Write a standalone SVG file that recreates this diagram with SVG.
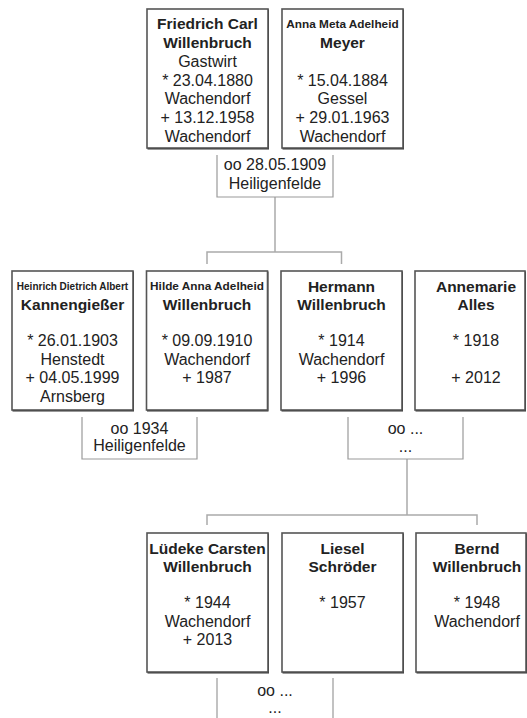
<svg xmlns="http://www.w3.org/2000/svg" width="527" height="718" viewBox="0 0 527 718">
<style>
.bx{fill:#fff;stroke:#555;stroke-width:1.6}
.sh{fill:#333}
text{font-family:"Liberation Sans",Arial,sans-serif;font-size:16px;fill:#222;text-anchor:middle}
.b{font-weight:bold;font-size:15.5px}
.s{font-weight:bold;font-size:11.8px}
.xs{font-weight:bold;font-size:10px}
.conn{stroke:#aaa;stroke-width:1.5;fill:none}
.mar{stroke:#9a9a9a;stroke-width:1.2;fill:none}
</style>
<rect width="527" height="718" fill="#fff"/>
<g id="connectors">
<path class="conn" d="M275,197 V252 M207,264 V252 H341.5 V264"/>
<path class="conn" d="M407,459 V515 M207,525 V515 H477 V525"/>
</g>
<g id="friedrich">
<rect class="sh" x="147.5" y="9.5" width="121.5" height="140"/>
<rect class="bx" x="147" y="9" width="121" height="139"/>
<text x="207.5" y="29" class="b">Friedrich Carl</text>
<text x="207.5" y="48" class="b">Willenbruch</text>
<text x="207.5" y="67">Gastwirt</text>
<text x="207.5" y="85.5">* 23.04.1880</text>
<text x="207.5" y="104">Wachendorf</text>
<text x="207.5" y="123">+ 13.12.1958</text>
<text x="207.5" y="142">Wachendorf</text>
</g>
<g id="anna">
<rect class="sh" x="282.5" y="9.5" width="121.5" height="140"/>
<rect class="bx" x="282" y="9" width="121" height="139"/>
<text x="342.5" y="27.5" class="s">Anna Meta Adelheid</text>
<text x="342.5" y="48" class="b">Meyer</text>
<text x="342.5" y="85.5">* 15.04.1884</text>
<text x="342.5" y="104">Gessel</text>
<text x="342.5" y="123">+ 29.01.1963</text>
<text x="342.5" y="142">Wachendorf</text>
</g>
<g id="marriage1">
<path class="mar" d="M217,155 V197 H333 V155"/>
<text x="275" y="170">oo 28.05.1909</text>
<text x="275" y="189">Heiligenfelde</text>
</g>
<g id="heinrich">
<rect class="sh" x="12.5" y="271.5" width="121.5" height="140"/>
<rect class="bx" x="12" y="271" width="121" height="139"/>
<text x="72.5" y="289.5" class="xs">Heinrich Dietrich Albert</text>
<text x="72.5" y="310" class="b">Kannengießer</text>
<text x="72.5" y="346">* 26.01.1903</text>
<text x="72.5" y="364.5">Henstedt</text>
<text x="72.5" y="383">+ 04.05.1999</text>
<text x="72.5" y="401.5">Arnsberg</text>
</g>
<g id="hilde">
<rect class="sh" x="147" y="271.5" width="121.5" height="140"/>
<rect class="bx" x="146.5" y="271" width="121" height="139"/>
<text x="207" y="290" class="s">Hilde Anna Adelheid</text>
<text x="207" y="310" class="b">Willenbruch</text>
<text x="207" y="346">* 09.09.1910</text>
<text x="207" y="364.5">Wachendorf</text>
<text x="207" y="383">+ 1987</text>
</g>
<g id="hermann">
<rect class="sh" x="281.5" y="271.5" width="121.5" height="140"/>
<rect class="bx" x="281" y="271" width="121" height="139"/>
<text x="341.5" y="291.5" class="b">Hermann</text>
<text x="341.5" y="310" class="b">Willenbruch</text>
<text x="341.5" y="346">* 1914</text>
<text x="341.5" y="364.5">Wachendorf</text>
<text x="341.5" y="383">+ 1996</text>
</g>
<g id="annemarie">
<rect class="sh" x="415.5" y="271.5" width="110.5" height="140"/>
<rect class="bx" x="415" y="271" width="110" height="139"/>
<text x="476" y="291.5" class="b">Annemarie</text>
<text x="476" y="310" class="b">Alles</text>
<text x="476" y="346">* 1918</text>
<text x="476" y="383">+ 2012</text>
</g>
<g id="marriage2">
<path class="mar" d="M82,417 V459 H197 V417"/>
<text x="139.5" y="434">oo 1934</text>
<text x="139.5" y="451">Heiligenfelde</text>
</g>
<g id="marriage3">
<path class="mar" d="M348,417 V459 H463 V417"/>
<text x="405.5" y="434">oo ...</text>
<text x="405.5" y="452">...</text>
</g>
<g id="luedeke">
<rect class="sh" x="147.5" y="533.5" width="121.5" height="140"/>
<rect class="bx" x="147" y="533" width="121" height="139"/>
<text x="207.5" y="553.5" class="b">Lüdeke Carsten</text>
<text x="207.5" y="572" class="b">Willenbruch</text>
<text x="207.5" y="608">* 1944</text>
<text x="207.5" y="626.5">Wachendorf</text>
<text x="207.5" y="645">+ 2013</text>
</g>
<g id="liesel">
<rect class="sh" x="282.5" y="533.5" width="121.5" height="140"/>
<rect class="bx" x="282" y="533" width="121" height="139"/>
<text x="342.5" y="553.5" class="b">Liesel</text>
<text x="342.5" y="572" class="b">Schröder</text>
<text x="342.5" y="608">* 1957</text>
</g>
<g id="bernd">
<rect class="sh" x="416.5" y="533.5" width="110.5" height="140"/>
<rect class="bx" x="416" y="533" width="110" height="139"/>
<text x="477" y="553.5" class="b">Bernd</text>
<text x="477" y="572" class="b">Willenbruch</text>
<text x="477" y="608">* 1948</text>
<text x="477" y="626.5">Wachendorf</text>
</g>
<g id="marriage4">
<path class="mar" d="M217,678 V720 M333,678 V720"/>
<text x="275" y="696">oo ...</text>
<text x="275" y="713">...</text>
</g>
</svg>
